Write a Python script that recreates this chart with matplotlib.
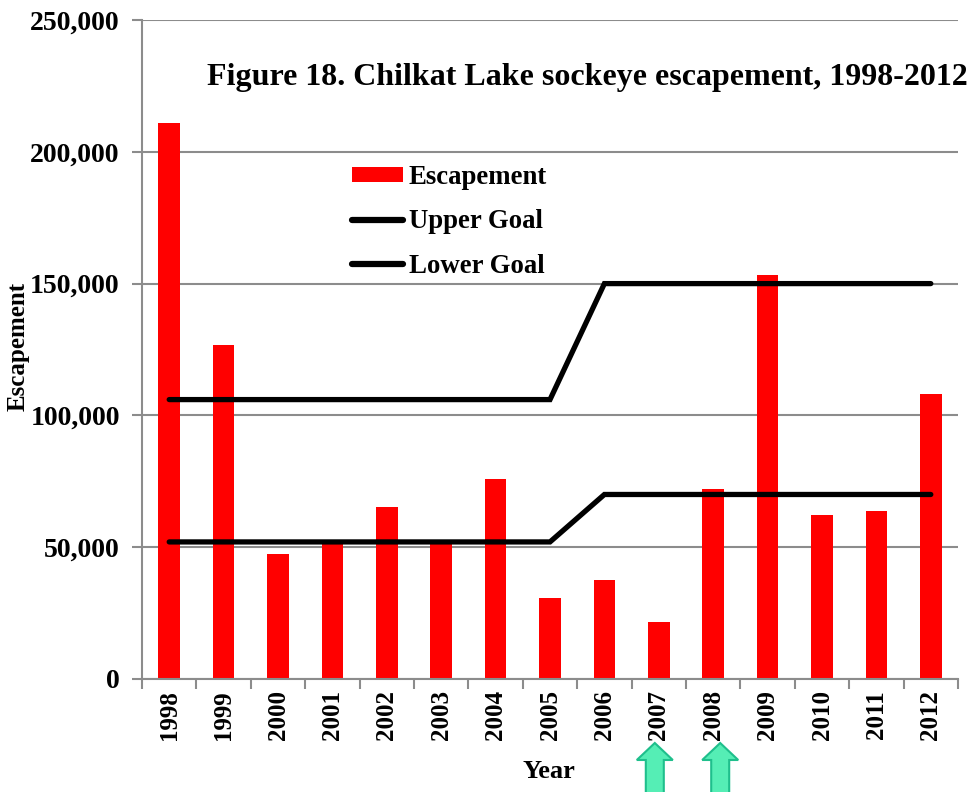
import matplotlib
matplotlib.use("Agg")
import matplotlib.pyplot as plt
from matplotlib.patches import Polygon
from matplotlib.lines import Line2D
from matplotlib.patches import Patch
import numpy as np

years = ["1998", "1999", "2000", "2001", "2002", "2003", "2004", "2005",
         "2006", "2007", "2008", "2009", "2010", "2011", "2012"]
escapement = [211000, 126600, 47300, 52000, 65300, 52000, 76000, 30700,
              37400, 21500, 72000, 153100, 62200, 63600, 108000]
upper_goal = [106000] * 8 + [150000] * 7
lower_goal = [52000] * 8 + [70000] * 7
arrow_years = ["2007", "2008"]

W, H = 971, 792
fig = plt.figure(figsize=(W / 100, H / 100), dpi=100)
plt.rcParams['font.family'] = ['Liberation Serif', 'DejaVu Serif']
plt.rcParams['font.weight'] = 'bold'

L, R, B, T = 142, 958, 679, 20
ax = fig.add_axes([L / W, 1 - B / H, (R - L) / W, (B - T) / H])

x = np.arange(len(years))
ax.bar(x, escapement, width=0.40, color='#ff0000', zorder=2, label='Escapement')
ax.plot(x, upper_goal, color='black', lw=3.8, solid_capstyle='round',
        solid_joinstyle='miter', zorder=3, label='Upper Goal')
ax.plot(x, lower_goal, color='black', lw=3.8, solid_capstyle='round',
        solid_joinstyle='miter', zorder=3, label='Lower Goal')

ax.set_xlim(-0.5, len(years) - 0.5)
ax.set_ylim(0, 250000)
ax.set_yticks(np.arange(0, 250001, 50000))
ax.set_yticklabels([f"{v:,}" for v in range(0, 250001, 50000)],
                   fontsize=20, fontweight='bold')
ax.set_xticks(x)
ax.set_xticklabels(years, rotation=90, fontsize=18, fontweight='bold')
ax.set_xticks(np.arange(-0.5, len(years), 1.0), minor=True)
ax.tick_params(axis='x', which='major', length=0, pad=8)
ax.tick_params(axis='x', which='minor', length=7, color='#8c8c8c', width=1.5)
ax.tick_params(axis='y', length=7, color='#8c8c8c', width=1.5, pad=9)

ax.grid(axis='y', color='#8c8c8c', lw=1.5, zorder=0)
ax.set_axisbelow(True)
for s in ['top', 'right']:
    ax.spines[s].set_visible(False)
for s in ['left', 'bottom']:
    ax.spines[s].set_color('#8c8c8c')
    ax.spines[s].set_linewidth(1.5)

fig.text(18 / W, 1 - 346 / H, 'Escapement', fontsize=18, fontweight='bold',
         rotation=90, ha='center', va='center')
fig.text(549 / W, 1 - 772 / H, 'Year', fontsize=19, fontweight='bold',
         ha='center', va='center')
fig.text(587 / W, 1 - 77 / H,
         'Figure 18. Chilkat Lake sockeye escapement, 1998-2012',
         fontsize=23, fontweight='bold', ha='center', va='center')

handles = [Patch(facecolor='#ff0000', edgecolor='none'),
           Line2D([], [], color='black', lw=4.5, solid_capstyle='round'),
           Line2D([], [], color='black', lw=4.5, solid_capstyle='round')]
fig.legend(handles, ['Escapement', 'Upper Goal', 'Lower Goal'],
           loc='upper left', bbox_to_anchor=(352 / W, 1 - 165 / H),
           frameon=False, prop={'weight': 'bold', 'size': 19.3},
           handlelength=1.9, handleheight=0.5, handletextpad=0.22,
           labelspacing=0.72, borderpad=0, borderaxespad=0)

# arrows under 2007 and 2008
arrow_offsets = {"2007": -4, "2008": 7}
for yr in arrow_years:
    i = years.index(yr)
    cx = L + (i + 0.5) * (R - L) / len(years) + arrow_offsets[yr]
    top, base, bottom = 743, 760, 800
    hw, sw = 18, 9
    pts = [(cx, top), (cx + hw, base), (cx + sw, base), (cx + sw, bottom),
           (cx - sw, bottom), (cx - sw, base), (cx - hw, base)]
    pts = [(px / W, 1 - py / H) for px, py in pts]
    fig.patches.append(Polygon(pts, closed=True, transform=fig.transFigure,
                               facecolor='#55eeb5', edgecolor='#1fbf8c',
                               lw=1.5, zorder=5))

fig.savefig('out.png', dpi=100)
